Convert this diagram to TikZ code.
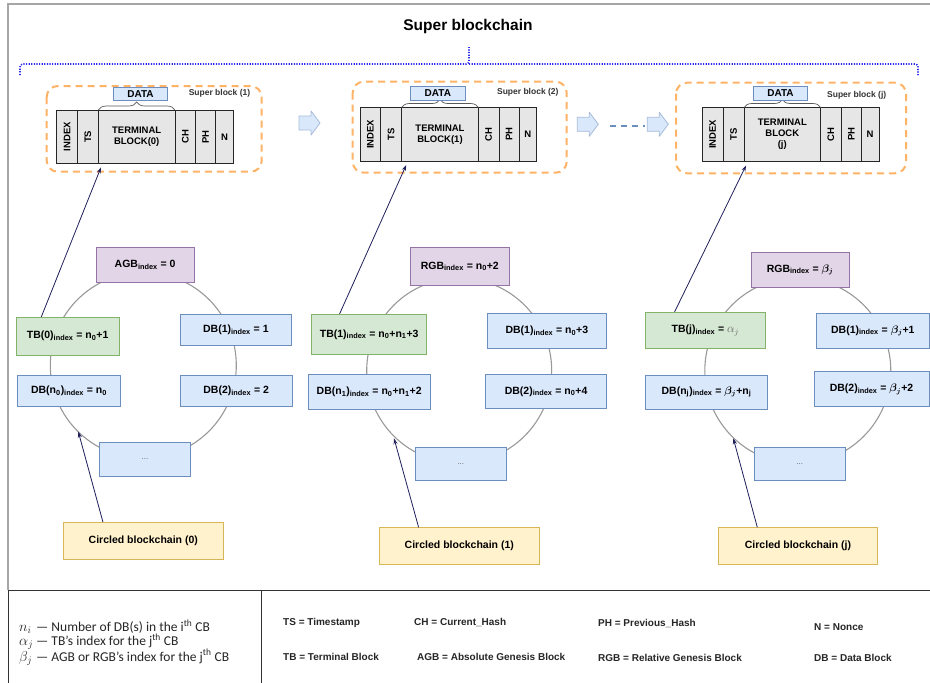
\documentclass[tikz,border=0pt]{standalone}
\usepackage{amsmath}
\usepackage{fontspec}
\setmainfont{Liberation Sans}
\newfontfamily\carlito{Carlito}
\usetikzlibrary{arrows.meta,decorations.pathreplacing}
\definecolor{pfill}{HTML}{E1D5E7}\definecolor{pdraw}{HTML}{9673A6}
\definecolor{gfill}{HTML}{D5E8D4}\definecolor{gdraw}{HTML}{82B366}
\definecolor{bfill}{HTML}{DAE8FC}\definecolor{bdraw}{HTML}{6C8EBF}
\definecolor{yfill}{HTML}{FFF2CC}\definecolor{ydraw}{HTML}{D6B656}
\definecolor{odash}{HTML}{FFB366}
\definecolor{navy}{HTML}{1F1F5C}
\definecolor{dotblue}{HTML}{2B2BF0}
\definecolor{cellfill}{HTML}{E6E6E6}
\newcommand{\boxat}[7]{\node[#1,minimum width={(#4)-(#2)},minimum height={(#5)-(#3)}] (#6) at ({((#2)+(#4))/2},{((#3)+(#5))/2}) {#7};}
\newcommand{\ix}{\textsubscript{index}}
\newcommand{\sub}[1]{\textsubscript{#1}}
\newcommand{\bb}{{\boldmath$\beta_j$}}
\newcommand{\legsym}[1]{\makebox[17pt][l]{\fontsize{14.5}{16}\selectfont$#1$}}
% super block cells: prefix, x0, y0, terminal text
\newcommand{\sbcells}[4]{%
  \node[cell,rotate=90,minimum width=53.5,minimum height=20.7] (#1idx) at ({#2+10.35},{#3+26.75}) {INDEX};
  \node[cell,rotate=90,minimum width=53.5,minimum height=21] (#1ts) at ({#2+31.2},{#3+26.75}) {TS};
  \node[cell,minimum width=76.6,minimum height=53.5,align=center] (#1term) at ({#2+80},{#3+26.75}) {#4};
  \node[cell,rotate=90,minimum width=53.5,minimum height=20.7] (#1ch) at ({#2+128.65},{#3+26.75}) {CH};
  \node[cell,rotate=90,minimum width=53.5,minimum height=20] (#1ph) at ({#2+149},{#3+26.75}) {PH};
  \node[cell,minimum width=17.7,minimum height=53.5] (#1n) at ({#2+167.85},{#3+26.75}) {N};
  \draw[bracestyle] ({#2+41.7},{#3}) -- ({#2+118.3},{#3});
}
\newcommand{\barrow}[2]{\draw[blockarrow] (#1,{#2-7}) -- ({#1+12},{#2-7}) -- ({#1+12},{#2-12}) -- ({#1+21},#2) -- ({#1+12},{#2+12}) -- ({#1+12},{#2+7}) -- (#1,{#2+7}) -- cycle;}
\begin{document}
\begin{tikzpicture}[x=1pt,y=-1pt,
  cell/.style={draw=black!85,fill=cellfill,line width=0.9pt,inner sep=0pt,font=\bfseries\fontsize{9.5}{11}\selectfont},
  lbl/.style={line width=0.8pt,inner sep=0pt,align=center,font=\bfseries\fontsize{10.5}{12}\selectfont},
  pbox/.style={lbl,draw=pdraw,fill=pfill},
  gbox/.style={lbl,draw=gdraw,fill=gfill},
  bbox/.style={lbl,draw=bdraw,fill=bfill},
  ybox/.style={lbl,draw=ydraw,fill=yfill},
  dots/.style={bbox,font=\fontsize{8}{10}\selectfont,text=black!60},
  databox/.style={lbl,draw=bdraw,fill=bfill,font=\bfseries\fontsize{10}{12}\selectfont},
  sblabel/.style={inner sep=0pt,font=\bfseries\fontsize{8.5}{10}\selectfont,text=black!80},
  bracestyle/.style={decorate,decoration={brace,amplitude=8pt},draw=black!65,line width=0.7pt},
  orangebox/.style={draw=odash,line width=2pt,dash pattern=on 7pt off 5pt,rounded corners=11pt},
  blockarrow/.style={draw=bdraw!60,fill=bfill,line width=0.8pt,line join=round},
  ring/.style={draw=black!40,line width=1.1pt},
  navyarrow/.style={draw=navy,line width=0.8pt,-{Stealth[length=6pt,width=4pt]}},
  legr/.style={anchor=west,inner sep=0pt,font=\bfseries\fontsize{10}{12}\selectfont,text=black!85},
  legl/.style={anchor=west,inner sep=0pt,font=\carlito\fontsize{13.5}{15}\selectfont,text=black!85}]
\useasboundingbox (0,0) rectangle (930,683);
\fill[white] (0,0) rectangle (930,683);
% outer frame
\draw[black!35,line width=2pt] (8,590) -- (8,4) -- (931,4);
% legend frame
\draw[black!80,line width=1pt] (8,683) -- (8,590) -- (931,590);
\draw[black!80,line width=1pt] (261,590) -- (261,683);
% title
\node[font=\bfseries\fontsize{15.5}{18}\selectfont] (title) at (468,26) {Super blockchain};
% dotted brace
\draw[dotblue,line width=1.6pt,dash pattern=on 1.2pt off 1.4pt,rounded corners=3pt] (20,75) |- (469,64) -- (469,47);
\draw[dotblue,line width=1.6pt,dash pattern=on 1.2pt off 1.4pt,rounded corners=3pt] (469,64) -| (918,76);
% super block frames
\draw[orangebox] (46.7,86) rectangle (261.7,171.7);
\draw[orangebox] (352.7,81.7) rectangle (566.7,172.7);
\draw[orangebox] (676,82.7) rectangle (906,173.3);
% cells
\sbcells{sa}{56.7}{110}{TERMINAL\\BLOCK(0)}
\sbcells{sb}{360}{107.5}{TERMINAL\\BLOCK(1)}
\sbcells{sc}{702.3}{107.5}{TERMINAL\\BLOCK\\(j)}
% data boxes
\boxat{databox}{113.3}{87.3}{167.7}{100.7}{da}{DATA}
\boxat{databox}{410.7}{86}{465}{100}{db}{DATA}
\boxat{databox}{753.3}{86}{807.7}{100}{dc}{DATA}
% super block labels
\node[sblabel] (la) at (219.5,93) {Super block (1)};
\node[sblabel] (lb) at (527.8,92) {Super block (2)};
\node[sblabel] (lc) at (856.7,95.3) {Super block (j)};
% block arrows
\barrow{299}{123}
\barrow{577.3}{124.3}
\barrow{647.3}{124.3}
\coordinate (dl1) at (610,125.7);
\coordinate (dl2) at (645,125.7);
\draw[bdraw,line width=2pt,dash pattern=on 6pt off 5pt] (dl1) -- (dl2);
% rings
\draw[ring] (143.3,365.3) circle[radius=93];
\draw[ring] (459.2,370.6) circle[radius=92.5];
\draw[ring] (797.8,370.7) circle[radius=93];
% circled blockchain 0
\boxat{pbox}{96}{247.3}{194.3}{282.7}{agb}{AGB\ix{} = 0}
\boxat{gbox}{16}{317.3}{119.3}{355}{tba}{TB(0)\ix{} = n\sub{0}+1}
\boxat{bbox}{17.3}{375}{120.7}{406.7}{dbna}{DB(n\sub{0})\ix{} = n\sub{0}}
\boxat{bbox}{180}{314}{291.7}{345.7}{dba1}{DB(1)\ix{} = 1}
\boxat{bbox}{180}{375}{292.3}{406.7}{dba2}{DB(2)\ix{} = 2}
\boxat{dots}{99.3}{442}{190.7}{476}{dota}{...}
\boxat{ybox}{63.3}{522.3}{223.3}{559.3}{cba}{Circled blockchain (0)}
% circled blockchain 1
\boxat{pbox}{410.7}{247.3}{509}{285.7}{rgbb}{RGB\ix{} = n\sub{0}+2}
\boxat{gbox}{311.7}{314.3}{426.7}{354.3}{tbb}{TB(1)\ix{} = n\sub{0}+n\sub{1}+3}
\boxat{bbox}{308.3}{374.3}{430}{409}{dbnb}{DB(n\sub{1})\ix{} = n\sub{0}+n\sub{1}+2}
\boxat{bbox}{487.3}{313.3}{606.5}{348.3}{dbb1}{DB(1)\ix{} = n\sub{0}+3}
\boxat{bbox}{485.7}{374.3}{606.5}{408.3}{dbb2}{DB(2)\ix{} = n\sub{0}+4}
\boxat{dots}{415}{447.3}{506.7}{480.7}{dotb}{...}
\boxat{ybox}{379.3}{527.7}{539.3}{564.3}{cbb}{Circled blockchain (1)}
% circled blockchain j
\boxat{pbox}{751}{252.3}{849.3}{287.7}{rgbc}{RGB\ix{} = \bb}
\boxat{gbox}{645.7}{312.3}{765}{348.3}{tbc}{TB(j)\ix{} = {\color{black!60}\fontsize{12}{14}\selectfont$\alpha_j$}}
\boxat{bbox}{645.7}{375}{767.3}{409}{dbnc}{DB(n\sub{j})\ix{} = \bb+n\sub{j}}
\boxat{bbox}{816.7}{313.3}{929}{348.3}{dbc1}{DB(1)\ix{} = \bb+1}
\boxat{bbox}{814}{371.7}{929}{406.7}{dbc2}{DB(2)\ix{} = \bb+2}
\boxat{dots}{754}{447.3}{845.7}{480.7}{dotc}{...}
\boxat{ybox}{718.3}{527.7}{877.7}{564.3}{cbc}{Circled blockchain (j)}
% arrows to super blocks
\draw[navyarrow] ([xshift=25.7pt]tba.north west) -- ([shift={(3,3.5)}]saterm.south west);
\draw[navyarrow] ([xshift=28.3pt]tbb.north west) -- ([shift={(5,3.5)}]sbterm.south west);
\draw[navyarrow] ([xshift=29.3pt]tbc.north west) -- ([shift={(2.5,4)}]scterm.south west);
% arrows from circled blockchains to rings
\coordinate (ra) at (78.3,431.7);
\coordinate (rb) at (394,438.3);
\coordinate (rc) at (733.3,438.3);
\draw[navyarrow] ([xshift=40pt]cba.north west) -- (ra);
\draw[navyarrow] ([xshift=39.7pt]cbb.north west) -- (rb);
\draw[navyarrow] ([xshift=39.4pt]cbc.north west) -- (rc);
% legend left
\node[legl] (ln) at (19,626.7) {\legsym{n_i}— Number of DB(s) in the i\textsuperscript{th} CB};
\node[legl] (la2) at (19,641.7) {\legsym{\alpha_j}— TB’s index for the j\textsuperscript{th} CB};
\node[legl] (lb2) at (19,657.3) {\legsym{\beta_j}— AGB or RGB’s index for the j\textsuperscript{th} CB};
% legend right
\node[legr] (l1) at (283,623) {TS = Timestamp};
\node[legr] (l2) at (414,622) {CH = Current\_Hash};
\node[legr] (l3) at (598,623) {PH = Previous\_Hash};
\node[legr] (l4) at (814,627) {N = Nonce};
\node[legr] (l5) at (283,657) {TB = Terminal Block};
\node[legr] (l6) at (417,657) {AGB = Absolute Genesis Block};
\node[legr] (l7) at (598,657.5) {RGB = Relative Genesis Block};
\node[legr] (l8) at (814,658) {DB = Data Block};
\end{tikzpicture}
\end{document}
